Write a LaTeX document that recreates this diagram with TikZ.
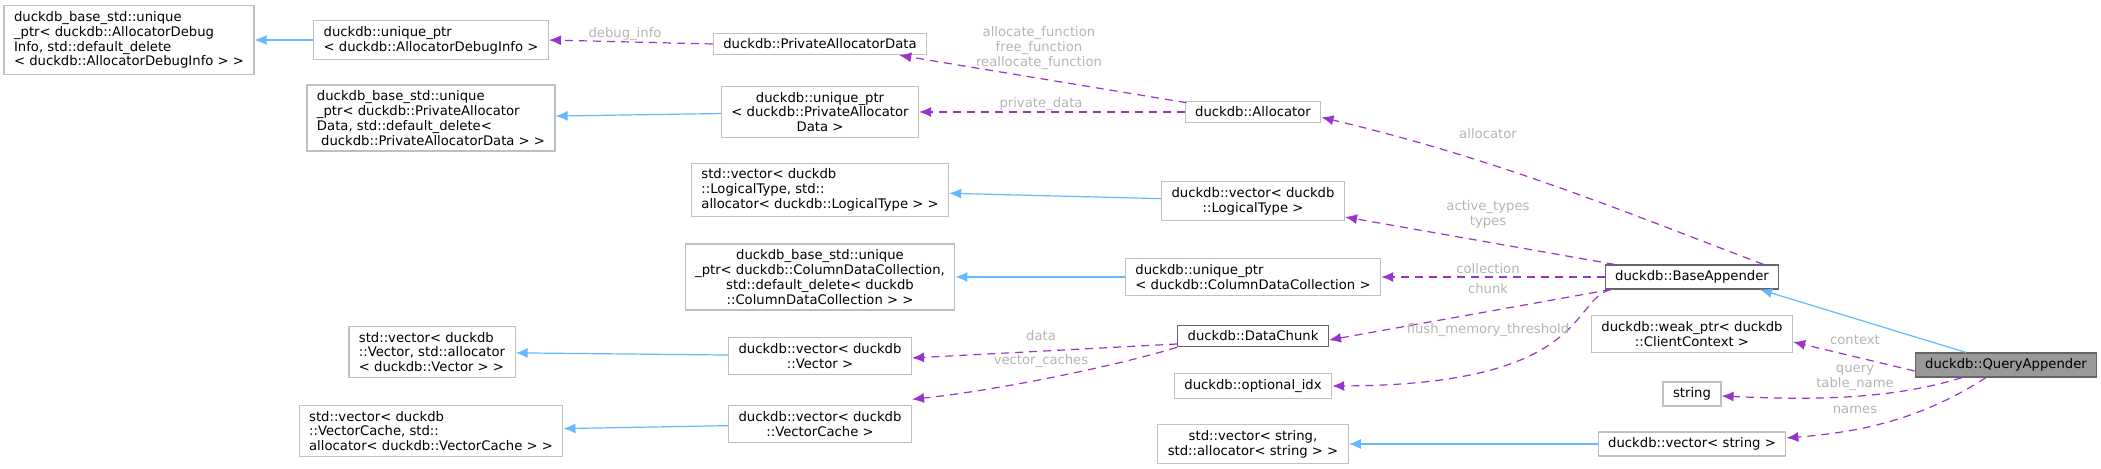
\documentclass[tikz,border=0pt]{standalone}
\usepackage{fontspec}
\setmainfont{DejaVu Sans}
\usepackage{tikz}
\usetikzlibrary{arrows.meta}

\definecolor{edgeblue}{HTML}{63B8FF}
\definecolor{edgepurple}{HTML}{9A32CD}
\definecolor{lblgray}{HTML}{B4B4B4}

\begin{document}
\begin{tikzpicture}[x=0.5pt,y=-0.5pt]
        \tikzstyle{every node}=[font=\fontsize{6.6}{7.4}\selectfont]
        \tikzstyle{cls}=[draw=black!25,line width=0.6pt,inner xsep=5pt,inner ysep=2.8pt,align=left,fill=white]
        \tikzstyle{main}=[cls,draw=black!60]
        \tikzstyle{inh}=[draw=edgeblue,line width=0.6pt,-{Latex[length=6pt,width=5pt]}]
        \tikzstyle{use}=[draw=edgepurple,line width=0.6pt,dash pattern=on 4pt off 3pt,-{Latex[length=6pt,width=5pt]}]
        \tikzstyle{lbl}=[text=lblgray,align=center,inner sep=0pt]
        \useasboundingbox (0,0) rectangle (2101,469);

        \node[cls] (a1) at (129,40) {duckdb\_base\_std::unique\\\_ptr< duckdb::AllocatorDebug\\Info, std::default\_delete\\< duckdb::AllocatorDebugInfo > >};
        \node[cls] (a2) at (431,40) {duckdb::unique\_ptr\\< duckdb::AllocatorDebugInfo >};
        \node[cls] (pad) at (820,44) {duckdb::PrivateAllocatorData};
        \node[cls] (b1) at (431,118) {duckdb\_base\_std::unique\\\_ptr< duckdb::PrivateAllocator\\Data, std::default\_delete<\\\ duckdb::PrivateAllocatorData > >};
        \node[cls,align=center] (b2) at (820,112) {duckdb::unique\_ptr\\< duckdb::PrivateAllocator\\Data >};
        \node[cls] (alloc) at (1253,112) {duckdb::Allocator};
        \node[cls] (c1) at (820,190) {std::vector< duckdb\\::LogicalType, std::\\allocator< duckdb::LogicalType > >};
        \node[cls,align=center] (c2) at (1253,201) {duckdb::vector< duckdb\\::LogicalType >};
        \node[cls,align=center] (d1) at (820,277) {duckdb\_base\_std::unique\\\_ptr< duckdb::ColumnDataCollection,\\std::default\_delete< duckdb\\::ColumnDataCollection > >};
        \node[cls] (d2) at (1253,277) {duckdb::unique\_ptr\\< duckdb::ColumnDataCollection >};
        \node[main] (ba) at (1692,277) {duckdb::BaseAppender};
        \node[main] (dc) at (1253,336) {duckdb::DataChunk};
        \node[cls] (e1) at (432,352) {std::vector< duckdb\\::Vector, std::allocator\\< duckdb::Vector > >};
        \node[cls,align=center] (e2) at (820,356) {duckdb::vector< duckdb\\::Vector >};
        \node[cls] (f1) at (431,431) {std::vector< duckdb\\::VectorCache, std::\\allocator< duckdb::VectorCache > >};
        \node[cls,align=center] (f2) at (820,424) {duckdb::vector< duckdb\\::VectorCache >};
        \node[cls] (oi) at (1253,386) {duckdb::optional\_idx};
        \node[cls,align=center] (wp) at (1692,334) {duckdb::weak\_ptr< duckdb\\::ClientContext >};
        \node[cls] (str) at (1692,394) {string};
        \node[cls,align=center] (g1) at (1253,444) {std::vector< string,\\std::allocator< string > >};
        \node[cls] (g2) at (1692,444) {duckdb::vector< string >};
        \node[main,fill=black!40] (qa) at (2006,365) {duckdb::QueryAppender};

        % inheritance
        \draw[inh] (a2) -- (a1);
        \draw[inh] (b2) -- (b1);
        \draw[inh] (c2) -- (c1);
        \draw[inh] (d2) -- (d1);
        \draw[inh] (e2) -- (e1);
        \draw[inh] (f2) -- (f1);
        \draw[inh] (g2) -- (g1);
        \draw[inh] ([xshift=-20pt]qa.north) -- ([xshift=34pt]ba.south);

        % members
        \draw[use] (pad.west) -- (a2.east);
        \draw[use] ([xshift=1pt,yshift=-1pt]alloc.north west) -- ([xshift=-14pt]pad.south east);
        \draw[use] (alloc.west) -- (b2.east);
        \draw[use] ([xshift=-8pt]ba.north east) .. controls (1620,210) and (1500,160) .. ([yshift=3pt]alloc.south east);
        \draw[use] ([xshift=5pt]ba.north west) -- ([yshift=2pt]c2.south east);
        \draw[use] (ba.west) -- (d2.east);
        \draw[use] ([xshift=3pt]ba.south west) -- ([yshift=-2pt]dc.east);
        \draw[use] ([xshift=3pt]ba.south west) .. controls (1570,300) and (1590,385) .. (oi.east);
        \draw[use] ([yshift=-4pt]dc.west) -- ([yshift=-1pt]e2.east);
        \draw[use] (dc.south west) .. controls (1120,365) and (1000,390) .. ([yshift=3pt]f2.north east);
        \draw[use] ([yshift=-3pt]qa.west) -- ([yshift=-4pt]wp.east);
        \draw[use] ([xshift=-22pt]qa.south) .. controls (1890,400) and (1810,400) .. ([yshift=-1pt]str.east);
        \draw[use] ([xshift=-10pt]qa.south) .. controls (1920,420) and (1860,432) .. ([yshift=3pt]g2.east);

        % member labels
        \node[lbl] (ldbg) at (625,34) {debug\_info};
        \node[lbl] (lfun) at (1039,48) {allocate\_function\\free\_function\\reallocate\_function};
        \node[lbl] (lpriv) at (1041,104) {private\_data};
        \node[lbl] (lalloc) at (1488,134) {allocator};
        \node[lbl] (ltypes) at (1488,214) {active\_types\\types};
        \node[lbl] (lcoll) at (1488,269) {collection};
        \node[lbl] (lchunk) at (1488,289) {chunk};
        \node[lbl] (lflush) at (1488,330) {flush\_memory\_threshold};
        \node[lbl] (ldata) at (1041,336) {data};
        \node[lbl] (lvc) at (1041,361) {vector\_caches};
        \node[lbl] (lctx) at (1855,340) {context};
        \node[lbl] (lq) at (1855,378) {query\\table\_name};
        \node[lbl] (lnames) at (1855,410) {names};
    \end{tikzpicture}
\end{document}
